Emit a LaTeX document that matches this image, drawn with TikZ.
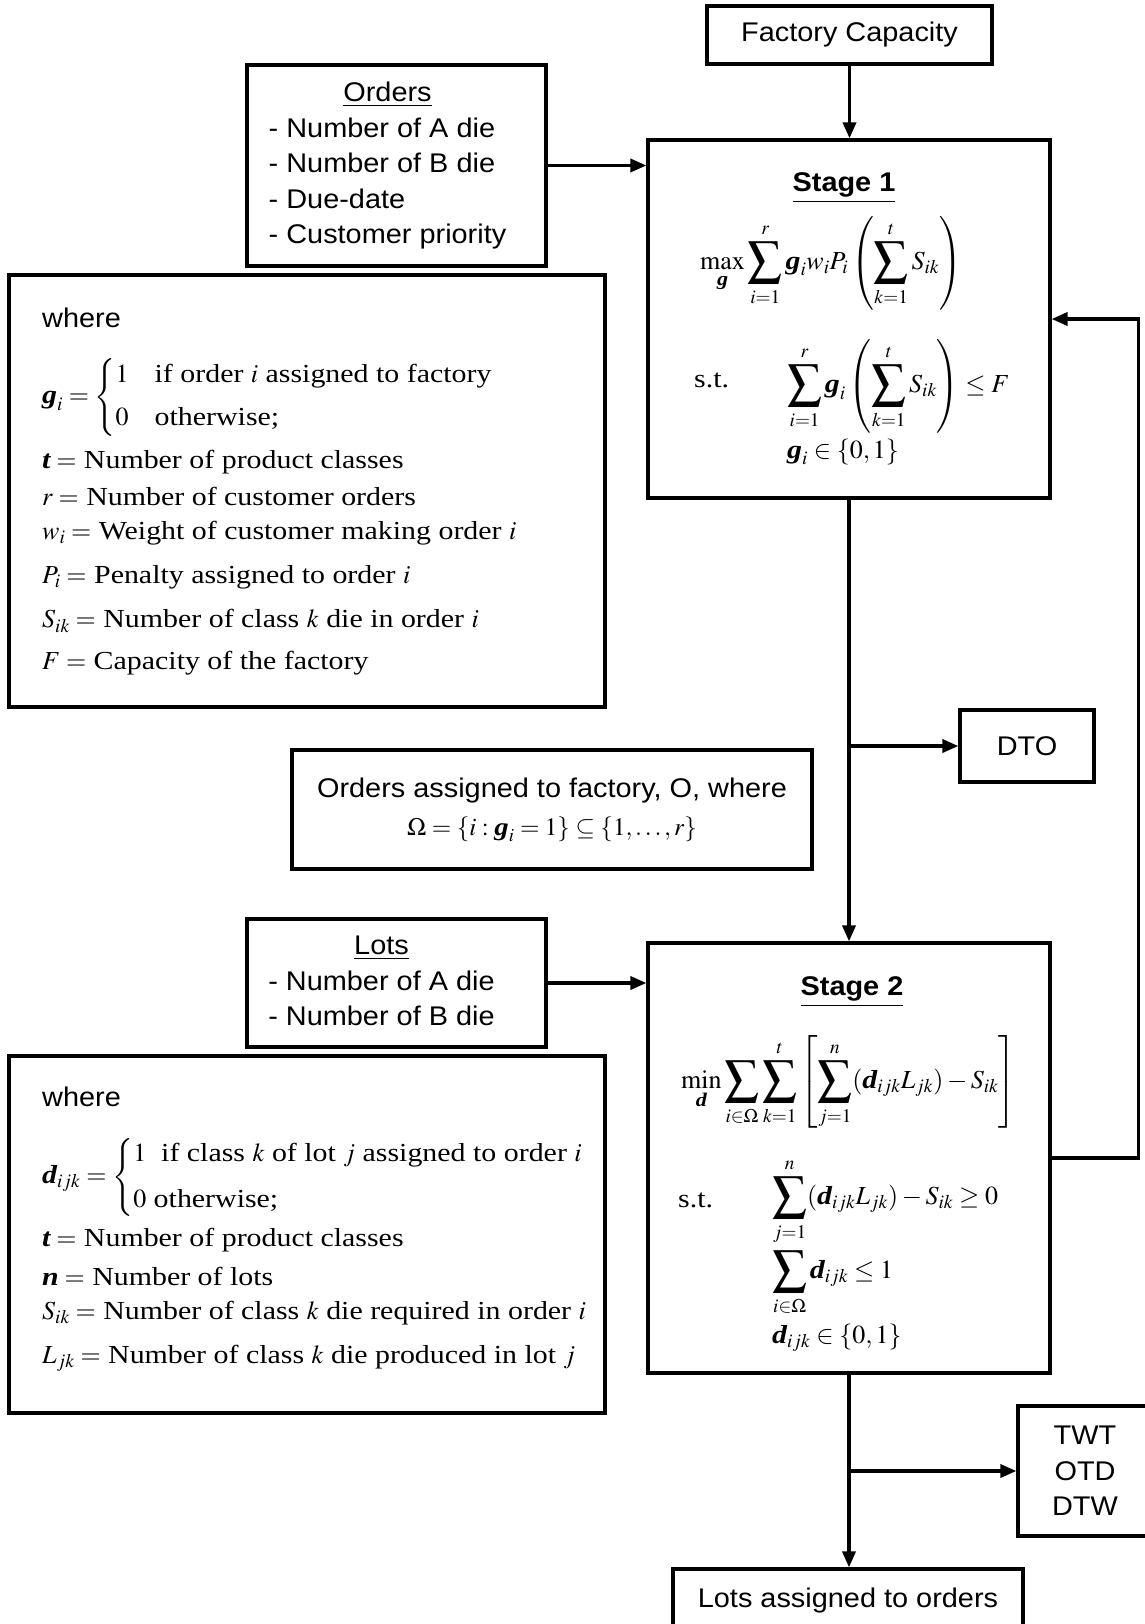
\documentclass[tikz,border=0pt]{standalone}
\usepackage{amsmath}
\usepackage{mathptmx}
\usepackage[no-math]{fontspec}
\setmainfont[FakeStretch=1.15]{Liberation Serif}
\setsansfont[FakeStretch=1.07]{Liberation Sans}
\usetikzlibrary{arrows.meta}

\newcommand{\bg}{\text{\rmfamily\bfseries\itshape g}}
\newcommand{\bd}{\text{\rmfamily\bfseries\itshape d}}
\newcommand{\bt}{\text{\rmfamily\bfseries\itshape t}}
\newcommand{\bn}{\text{\rmfamily\bfseries\itshape n}}
\newcommand{\bsum}{\mathop{\vcenter{\hbox{\fontsize{34}{34}\selectfont
  \raisebox{0pt}[\dimexpr\height+2pt][\dimexpr\depth+2pt]{$\displaystyle\sum$}}}}\limits}

\tikzset{
  box/.style={draw, line width=3.2pt, inner sep=0pt, align=center,
    font=\sffamily\fontsize{27}{35.5}\selectfont},
  head/.style={inner sep=0pt, font=\sffamily\bfseries\fontsize{27}{32}\selectfont},
  wtitle/.style={anchor=west, inner sep=0pt, font=\sffamily\fontsize{27}{32}\selectfont},
  deftext/.style={anchor=west, inner sep=0pt, font=\fontsize{26}{30}\selectfont},
  eqn/.style={anchor=west, inner sep=0pt, font=\fontsize{26}{30}\selectfont},
  flow/.style={line width=3.5pt, -{Triangle[length=16pt,width=13pt]}}
}

\begin{document}
\begin{tikzpicture}[x=1pt,y=-1pt]
  \clip (0,0) rectangle (1145,1624);
  \fill[white] (0,0) rectangle (1145,1624);

  % inputs and outputs
  \node[box, minimum width=285pt, minimum height=58pt] (cap) at (849.5,35) {Factory Capacity};
  \node[box, minimum width=299pt, minimum height=201pt] (orders) at (396.5,165.5) {%
    \begin{tabular}{@{}l@{}}
      \multicolumn{1}{@{}c@{}}{\underline{Orders}}\\
      - Number of A die\\
      - Number of B die\\
      - Due-date\\
      - Customer priority
    \end{tabular}\hspace*{18pt}};
  \node[box, minimum width=299pt, minimum height=128pt] (lots) at (396.5,983) {%
    \begin{tabular}{@{}l@{}}
      \multicolumn{1}{@{}c@{}}{\underline{Lots}}\\
      - Number of A die\\
      - Number of B die
    \end{tabular}\hspace*{30pt}};
  \node[box, minimum width=134pt, minimum height=72pt] (dto) at (1027,746) {DTO};
  \node[box, minimum width=134pt, minimum height=130pt] (kpi) at (1085,1471) {TWT\\OTD\\DTW};
  \node[box, minimum width=350pt, minimum height=62pt] (assigned) at (848,1600) {Lots assigned to orders};
  \node[box, minimum width=520pt, minimum height=119pt, font=\sffamily\fontsize{27}{38}\selectfont] (omega) at (552,809.5)
    {Orders assigned to factory, O, where\\
     {\fontsize{25}{28}\selectfont $\Omega=\{i:\bg_i=1\}\subseteq\{1,\ldots,r\}$}};

  % stage 1
  \node[box, minimum width=402pt, minimum height=358pt] (stage1) at (849,319) {};
  \node[head] (s1head) at (844,188) {\underline{Stage 1}};
  \node[eqn] (s1obj) at (700,263)
    {$\displaystyle\max_{\bg}\bsum_{i=1}^{r}\bg_i w_i P_i\left(\bsum_{k=1}^{t}S_{ik}\right)$};
  \node[eqn] (s1st) at (694,380) {s.t.};
  \node[eqn] (s1con) at (787,386)
    {$\displaystyle\bsum_{i=1}^{r}\bg_i\left(\bsum_{k=1}^{t}S_{ik}\right)\le F$};
  \node[eqn] (s1bin) at (787,452) {$\bg_i\in\{0,1\}$};

  % stage 2
  \node[box, minimum width=402pt, minimum height=430pt] (stage2) at (849,1158) {};
  \node[head] (s2head) at (852,992) {\underline{Stage 2}};
  \node[eqn] (s2obj) at (681,1082)
    {$\displaystyle\min_{\bd}\bsum_{i\in\Omega}\bsum_{k=1}^{t}\left[\bsum_{j=1}^{n}(\bd_{ijk}L_{jk})-S_{ik}\right]$};
  \node[eqn] (s2st) at (678,1200) {s.t.};
  \node[eqn] (s2dem) at (772,1202)
    {$\displaystyle\bsum_{j=1}^{n}(\bd_{ijk}L_{jk})-S_{ik}\ge 0$};
  \node[eqn] (s2one) at (772,1282) {$\displaystyle\bsum_{i\in\Omega}\bd_{ijk}\le 1$};
  \node[eqn] (s2bin) at (772,1338) {$\bd_{ijk}\in\{0,1\}$};

  % definitions, stage 1
  \node[box, minimum width=596pt, minimum height=432pt] (def1) at (307,491) {};
  \node[wtitle] (wh1) at (42,318) {where};
  \node[deftext] (gdef) at (42,397)
    {$\bg_i=\begin{cases}1 & \text{if order $i$ assigned to factory}\\[7pt] 0 & \text{otherwise;}\end{cases}$};
  \node[deftext] (tdef1) at (42,462) {$\bt=$ Number of product classes};
  \node[deftext] (rdef) at (42,496) {$r=$ Number of customer orders};
  \node[deftext] (wdef) at (42,533) {$w_i=$ Weight of customer making order $i$};
  \node[deftext] (pdef) at (42,577) {$P_i=$ Penalty assigned to order $i$};
  \node[deftext] (sdef1) at (42,621) {$S_{ik}=$ Number of class $k$ die in order $i$};
  \node[deftext] (fdef) at (42,663) {$F=$ Capacity of the factory};

  % definitions, stage 2
  \node[box, minimum width=596pt, minimum height=357pt] (def2) at (307,1234.5) {};
  \node[wtitle] (wh2) at (42,1097) {where};
  \node[deftext] (ddef) at (42,1177)
    {$\bd_{ijk}=\begin{cases}1\ \ \text{if class $k$ of lot $j$ assigned to order $i$}\\[10pt] 0\ \text{otherwise;}\end{cases}$};
  \node[deftext] (tdef2) at (42,1240) {$\bt=$ Number of product classes};
  \node[deftext] (ndef) at (42,1276) {$\bn=$ Number of lots};
  \node[deftext] (sdef2) at (42,1313) {$S_{ik}=$ Number of class $k$ die required in order $i$};
  \node[deftext] (ldef) at (42,1358) {$L_{jk}=$ Number of class $k$ die produced in lot $j$};

  % connectors
  \coordinate (split1) at (stage1.south |- dto.west);
  \coordinate (split2) at (stage2.south |- kpi.west);
  \draw[flow] (cap.south) -- (cap.south |- stage1.north);
  \draw[flow] (orders.east) -- (orders.east -| stage1.west);
  \draw[flow] (stage1.south) -- (stage1.south |- stage2.north);
  \draw[flow] (split1) -- (dto.west);
  \draw[flow] (lots.east) -- (lots.east -| stage2.west);
  \draw[flow] (stage2.east) -- ++(87,0) |- (stage1.east);
  \draw[flow] (stage2.south) -- (stage2.south |- assigned.north);
  \draw[flow] (split2) -- (kpi.west);
\end{tikzpicture}
\end{document}
